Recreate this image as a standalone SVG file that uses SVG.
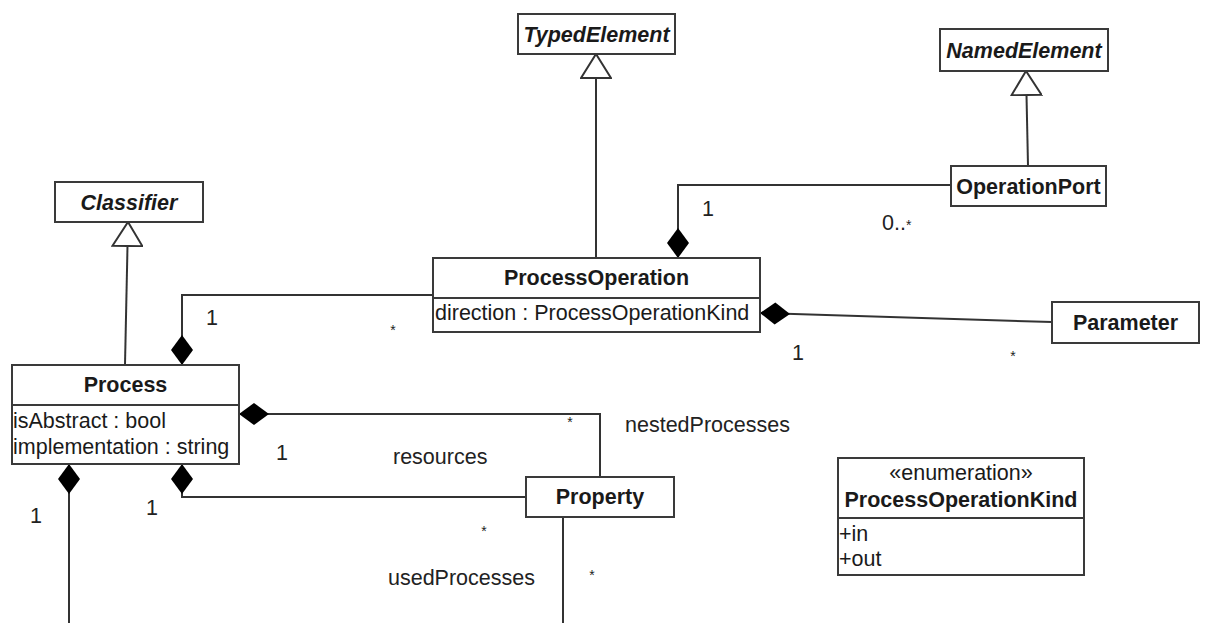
<svg xmlns="http://www.w3.org/2000/svg" width="1205" height="623" viewBox="0 0 1205 623">
<style>
  .box { fill: #ffffff; stroke: #3a3a3a; stroke-width: 2; }
  .div { stroke: #3a3a3a; stroke-width: 2; }
  .edge { fill: none; stroke: #333333; stroke-width: 2; }
  text { font-family: "Liberation Sans", Arial, sans-serif; font-size: 21.5px; fill: #1a1a1a; }
  .title { font-weight: bold; text-anchor: middle; }
  .abs { font-weight: bold; font-style: italic; text-anchor: middle; }
  .attr { text-anchor: start; }
  .lbl { fill: #222222; }
  .mid { text-anchor: middle; }
  .star { font-size: 14px; text-anchor: middle; }
</style>
<defs>
  <marker id="gen" viewBox="0 0 26 32" refX="25" refY="16" markerWidth="26" markerHeight="32" markerUnits="userSpaceOnUse" orient="auto">
    <path d="M1,1 L25,16 L1,31 Z" fill="#ffffff" stroke="#333333" stroke-width="2"/>
  </marker>
  <marker id="comp" viewBox="0 0 31 23" refX="30.5" refY="11.5" markerWidth="31" markerHeight="23" markerUnits="userSpaceOnUse" orient="auto">
    <path d="M0.5,11.5 L15.5,0.5 L30.5,11.5 L15.5,22.5 Z" fill="#000000"/>
  </marker>
</defs>

<g id="connectors">
  <path class="edge" d="M596,258 L596,54" marker-end="url(#gen)"/>
  <path class="edge" d="M1028,166 L1026,71" marker-end="url(#gen)"/>
  <path class="edge" d="M125,365 L128,222" marker-end="url(#gen)"/>
  <path class="edge" d="M951,185 L678,185 L678,258" marker-end="url(#comp)"/>
  <path class="edge" d="M433,295 L182,295 L182,365" marker-end="url(#comp)"/>
  <path class="edge" d="M1052,322 L760,313" marker-end="url(#comp)"/>
  <path class="edge" d="M600,477 L600,414 L239,414" marker-end="url(#comp)"/>
  <path class="edge" d="M526,497 L182,497 L182,464" marker-end="url(#comp)"/>
  <path class="edge" d="M69,623 L69,464" marker-end="url(#comp)"/>
  <path class="edge" d="M563,517 L563,623"/>
  <text class="lbl mid" x="708" y="216">1</text>
  <text class="lbl" x="882" y="230">0..<tspan font-size="14px">*</tspan></text>
  <text class="lbl mid" x="212" y="325">1</text>
  <text class="lbl star" x="393" y="335">*</text>
  <text class="lbl mid" x="798" y="360">1</text>
  <text class="lbl star" x="1013" y="361">*</text>
  <text class="lbl star" x="570" y="427">*</text>
  <text class="lbl" x="625" y="432">nestedProcesses</text>
  <text class="lbl mid" x="282" y="460">1</text>
  <text class="lbl" x="393" y="464">resources</text>
  <text class="lbl star" x="484" y="536">*</text>
  <text class="lbl" x="388" y="585">usedProcesses</text>
  <text class="lbl star" x="592" y="580">*</text>
  <text class="lbl mid" x="36" y="523">1</text>
  <text class="lbl mid" x="152" y="515">1</text>
</g>

<g id="TypedElement">
  <rect class="box" x="518" y="14" width="157" height="40"/>
  <text class="abs" x="596.5" y="42">TypedElement</text>
</g>
<g id="NamedElement">
  <rect class="box" x="940" y="29" width="168" height="42"/>
  <text class="abs" x="1024" y="58">NamedElement</text>
</g>
<g id="Classifier">
  <rect class="box" x="55" y="182" width="148" height="40"/>
  <text class="abs" x="129" y="210">Classifier</text>
</g>
<g id="OperationPort">
  <rect class="box" x="951" y="166" width="155" height="40"/>
  <text class="title" x="1028.5" y="194">OperationPort</text>
</g>
<g id="ProcessOperation">
  <rect class="box" x="433" y="258" width="327" height="74"/>
  <line class="div" x1="433" y1="298" x2="760" y2="298"/>
  <text class="title" x="596.5" y="285">ProcessOperation</text>
  <text class="attr" x="435" y="320">direction : ProcessOperationKind</text>
</g>
<g id="Parameter">
  <rect class="box" x="1052" y="302" width="147" height="41"/>
  <text class="title" x="1125.5" y="330">Parameter</text>
</g>
<g id="Process">
  <rect class="box" x="12" y="365" width="227" height="99"/>
  <line class="div" x1="12" y1="405" x2="239" y2="405"/>
  <text class="title" x="125.5" y="392">Process</text>
  <text class="attr" x="13" y="428">isAbstract : bool</text>
  <text class="attr" x="13" y="454">implementation : string</text>
</g>
<g id="Property">
  <rect class="box" x="526" y="477" width="148" height="40"/>
  <text class="title" x="600" y="504">Property</text>
</g>
<g id="ProcessOperationKind">
  <rect class="box" x="838" y="458" width="246" height="117"/>
  <line class="div" x1="838" y1="518" x2="1084" y2="518"/>
  <text class="mid" x="961" y="480">«enumeration»</text>
  <text class="title" x="961" y="507">ProcessOperationKind</text>
  <text class="attr" x="839" y="541">+in</text>
  <text class="attr" x="839" y="566">+out</text>
</g>
</svg>
